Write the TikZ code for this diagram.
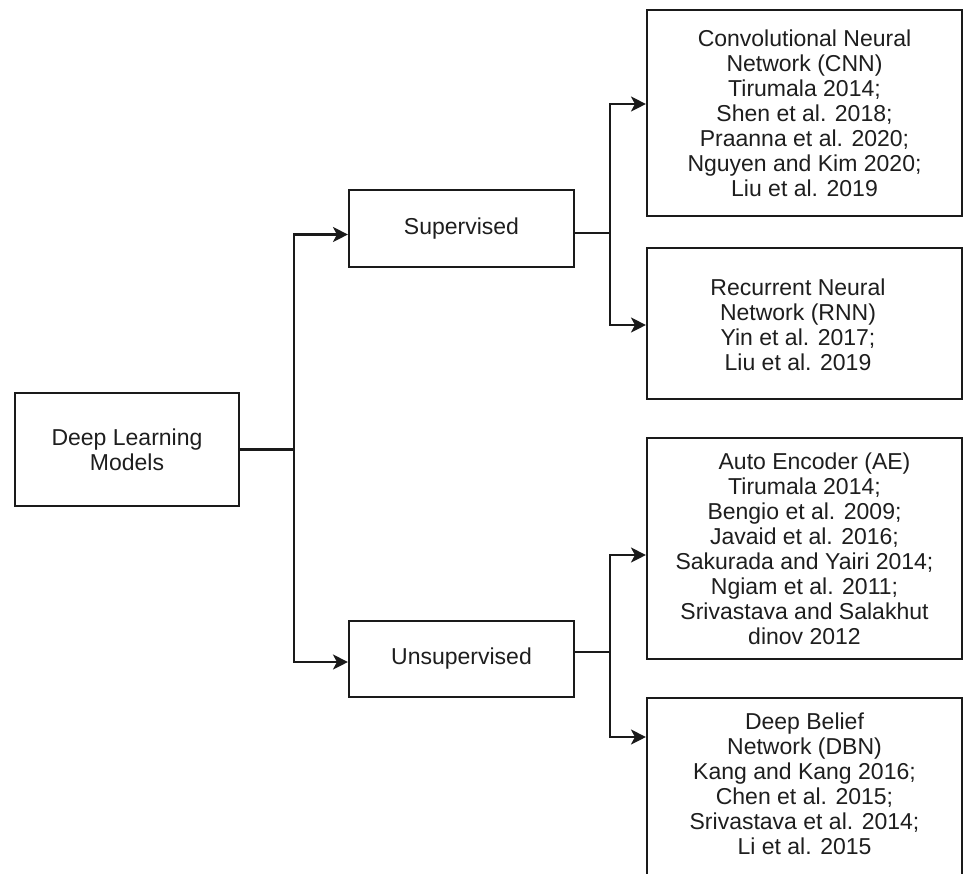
\documentclass[tikz,border=0pt]{standalone}
\usepackage{fontspec}
\setmainfont{Liberation Sans}
\usetikzlibrary{arrows.meta}
\definecolor{ink}{HTML}{1A1A1A}
\definecolor{txt}{HTML}{1E1E1E}
\begin{document}
\begin{tikzpicture}[x=1pt,y=-1pt,
  box/.style={draw=ink, line width=2.1pt, rectangle, inner sep=0pt, align=center, text=txt,
              font=\fontsize{23}{25}\selectfont},
  label/.style={inner sep=0pt, align=center, text=txt, font=\fontsize{23}{25}\selectfont},
  link/.style={draw=ink, line width=2.1pt},
  arr/.style={link, -{Stealth[length=15pt,width=15pt,inset=4pt]}}]
\useasboundingbox (0,0) rectangle (963,873);
\clip (0,0) rectangle (963,873);
\fill[white] (0,0) rectangle (963,873);

% left and middle boxes
\node[box, minimum width=224pt, minimum height=113pt] (dlm) at (127,449.5) {Deep Learning\\Models};
\node[box, minimum width=225pt, minimum height=77pt] (sup) at (461.5,228.5) {Supervised};
\node[box, minimum width=225pt, minimum height=76pt] (uns) at (461.5,659) {Unsupervised};

% right boxes
\node[box, minimum width=315pt, minimum height=206pt] (cnn) at (804.5,113)
  {Convolutional Neural\\Network (CNN)\\Tirumala 2014;\\Shen et al. 2018;\\Praanna et al. 2020;\\Nguyen and Kim 2020;\\Liu et al. 2019};
\node[box, minimum width=315pt, minimum height=151pt] (rnn) at (804.5,323.5) {};
\node[label] (rnntext) at (798,324.5) {Recurrent Neural\\Network (RNN)\\Yin et al. 2017;\\Liu et al. 2019};
\node[box, minimum width=315pt, minimum height=221pt] (ae) at (804.5,548.5)
  {\hspace*{20pt}Auto Encoder (AE)\\Tirumala 2014;\\Bengio et al. 2009;\\Javaid et al. 2016;\\Sakurada and Yairi 2014;\\Ngiam et al. 2011;\\Srivastava and Salakhut\\dinov 2012};
\node[box, minimum width=315pt, minimum height=190pt] (dbn) at (804.5,793) {};
\node[label] (dbntext) at (804.5,783.5) {Deep Belief\\Network (DBN)\\Kang and Kang 2016;\\Chen et al. 2015;\\Srivastava et al. 2014;\\Li et al. 2015};

% connectors
\coordinate (t1) at (294,449.5);
\coordinate (t2) at (610,233);
\coordinate (t3) at (610,652);
\draw[link] (dlm.east) -- (t1);
\draw[arr] (t1) |- ([yshift=-6pt]sup.west);
\draw[arr] (t1) |- ([yshift=-3pt]uns.west);
\draw[link] ([yshift=-4.5pt]sup.east) -- (t2);
\draw[arr] (t2) |- ([yshift=9pt]cnn.west);
\draw[arr] (t2) |- ([yshift=-1.5pt]rnn.west);
\draw[link] ([yshift=7pt]uns.east) -- (t3);
\draw[arr] (t3) |- ([yshift=-6.5pt]ae.west);
\draw[arr] (t3) |- ([yshift=56pt]dbn.west);
\end{tikzpicture}
\end{document}
